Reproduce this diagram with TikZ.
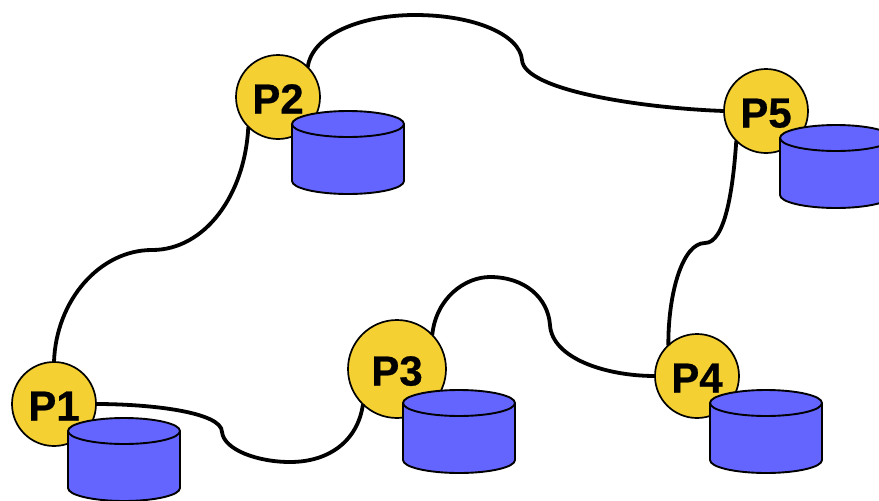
\documentclass[tikz,border=0pt]{standalone}
\usepackage{fontspec}
\setmainfont[BoldFeatures={FakeBold=0.6}]{Liberation Sans}
\definecolor{procfill}{HTML}{F5D033}
\definecolor{dbfill}{HTML}{6464FF}
\tikzset{
  proc/.style={circle,draw=black,line width=1.7pt,fill=procfill,inner sep=0pt,outer sep=0pt,minimum size=#1,font=\fontsize{42}{42}\bfseries\selectfont,text=black,text height=33pt,text depth=0pt},
  link/.style={draw=black,line width=3.8pt,line cap=butt},
  dbbody/.style={draw=black,line width=1.9pt,fill=dbfill,line join=round}
}
\newcommand{\dbcyl}[2]{%
  \path[dbbody] (#1,#2) -- (#1,#2+57) arc[start angle=180,end angle=0,x radius=56,y radius=13] -- (#1+112,#2) arc[start angle=360,end angle=180,x radius=56,y radius=13] -- cycle;
  \draw[dbbody,fill=none] (#1,#2) arc[start angle=180,end angle=0,x radius=56,y radius=13];
}
\begin{document}
\begin{tikzpicture}[x=1pt,y=-1pt]
\useasboundingbox (0,0) rectangle (879,501);
\clip (0,0) rectangle (879,501);
\coordinate (a1) at (152,250);
\coordinate (a2) at (222,432);
\coordinate (a3) at (550,325);
\coordinate (a4) at (705,243);
\coordinate (a5) at (522,60);
\node[proc=84pt] (P1) at (54,404) {P1};
\node[proc=84pt] (P2) at (278,97) {P2};
\node[proc=98pt] (P3) at (397,369) {P3};
\node[proc=84pt] (P4) at (697,376) {P4};
\node[proc=84pt] (P5) at (766,111) {P5};
\draw[link] (P1.north) .. controls (56,300) and (100,250) .. (a1) .. controls (205,250) and (245,195) .. (P2.225);
\draw[link] (P1.east) .. controls (150,404) and (222,412) .. (a2) .. controls (224,450) and (258,462) .. (290,462) .. controls (330,462) and (358,440) .. (P3.226);
\draw[link] (P3.44) .. controls (436,298) and (465,277) .. (490,277) .. controls (525,277) and (548,298) .. (a3) .. controls (552,358) and (605,376) .. (P4.west);
\draw[link] (P4.133) .. controls (668,295) and (682,243) .. (a4) .. controls (725,243) and (733,190) .. (P5.225);
\draw[link] (P2.45) .. controls (312,35) and (360,15) .. (415,15) .. controls (475,15) and (520,35) .. (a5) .. controls (524,90) and (640,108) .. (P5.west);
\dbcyl{68}{431}
\dbcyl{292}{124}
\dbcyl{403}{403}
\dbcyl{710}{403}
\dbcyl{780}{138}
\end{tikzpicture}
\end{document}
